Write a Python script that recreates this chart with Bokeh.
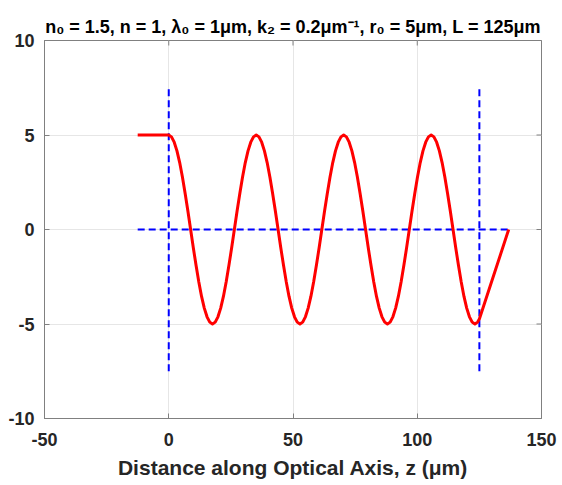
import math
from bokeh.plotting import figure
from bokeh.models import Range1d, FixedTicker
from bokeh.embed import file_html
from bokeh.resources import INLINE

# ---- data ----
x_ticks = [-50, 0, 50, 100, 150]
y_ticks = [-10, -5, 0, 5, 10]

# ray before lens (free space), inside GRIN lens, after lens
z_before = [-12.5, 0.0]
r_before = [5.0, 5.0]

z_inside = [0.0, 1.1, 2.2, 3.3, 4.4, 5.5, 6.6, 7.7, 8.8, 9.9, 11.0, 12.1, 13.2, 14.3, 15.4, 16.5,
            17.6, 18.7, 19.8, 20.9, 22.0, 23.1, 24.2, 25.3, 26.4, 27.5, 28.6, 29.7, 30.8, 31.9, 33.0, 34.1,
            35.2, 36.3, 37.4, 38.5, 39.6, 40.7, 41.8, 42.9, 44.0, 45.1, 46.2, 47.3, 48.4, 49.5, 50.6, 51.7,
            52.8, 53.9, 55.0, 56.1, 57.2, 58.3, 59.4, 60.5, 61.6, 62.7, 63.8, 64.9, 66.0, 67.1, 68.2, 69.3,
            70.4, 71.5, 72.6, 73.7, 74.8, 75.9, 77.0, 78.1, 79.2, 80.3, 81.4, 82.5, 83.6, 84.7, 85.8, 86.9,
            88.0, 89.1, 90.2, 91.3, 92.4, 93.5, 94.6, 95.7, 96.8, 97.9, 99.0, 100.1, 101.2, 102.3, 103.4, 104.5,
            105.6, 106.7, 107.8, 108.9, 110.0, 111.1, 112.2, 113.3, 114.4, 115.5, 116.6, 117.7, 118.8, 119.9,
            121.0, 122.1, 123.2, 124.3, 125.0]
r_inside = [5.00, 4.90, 4.62, 4.16, 3.54, 2.78, 1.91, 0.98, 0.00, -0.98, -1.91, -2.78, -3.54, -4.16, -4.62, -4.90,
            -5.00, -4.90, -4.62, -4.16, -3.54, -2.78, -1.91, -0.98, 0.00, 0.98, 1.91, 2.78, 3.54, 4.16, 4.62, 4.90,
            5.00, 4.90, 4.62, 4.16, 3.54, 2.78, 1.91, 0.98, 0.00, -0.98, -1.91, -2.78, -3.54, -4.16, -4.62, -4.90,
            -5.00, -4.90, -4.62, -4.16, -3.54, -2.78, -1.91, -0.98, 0.00, 0.98, 1.91, 2.78, 3.54, 4.16, 4.62, 4.90,
            5.00, 4.90, 4.62, 4.16, 3.54, 2.78, 1.91, 0.98, 0.00, -0.98, -1.91, -2.78, -3.54, -4.16, -4.62, -4.90,
            -5.00, -4.90, -4.62, -4.16, -3.54, -2.78, -1.91, -0.98, 0.00, 0.98, 1.91, 2.78, 3.54, 4.16, 4.62, 4.90,
            5.00, 4.90, 4.62, 4.16, 3.54, 2.78, 1.91, 0.98, 0.00, -0.98, -1.91, -2.78, -3.54, -4.16,
            -4.62, -4.90, -5.00, -4.90, -4.74]
z_after = [125.0, 136.8]
r_after = [-4.74, 0.0]

# dashed guide lines: lens faces and optical axis
face_z = [0.0, 125.0]
face_r0 = [-7.5, -7.5]
face_r1 = [7.5, 7.5]
axis_z0 = [-12.5]
axis_z1 = [136.8]
axis_r = [0.0]

title_text = "n\u2080 = 1.5, n = 1, \u03bb\u2080 = 1\u03bcm, k\u2082 = 0.2\u03bcm\u207b\u00b9, r\u2080 = 5\u03bcm, L = 125\u03bcm"
x_label = "Distance along Optical Axis, z (\u03bcm)"

FONT = "Liberation Sans"
TXT = "#262626"
AX = "#808080"

p = figure(width=562, height=485, output_backend="svg", toolbar_location=None,
           x_range=Range1d(-50, 150), y_range=Range1d(-10, 10),
           min_border_left=44, min_border_right=21, min_border_top=40, min_border_bottom=67)

p.title.text = title_text
p.title.align = "center"
p.title.text_font = FONT
p.title.text_font_style = "bold"
p.title.text_font_size = "18px"
p.title.text_color = "#000000"
p.title.standoff = 8

# dashed guides
p.segment(x0=face_z, y0=face_r0, x1=face_z, y1=face_r1, line_color="#0000ff", line_width=2, line_dash="7 4")
p.segment(x0=axis_z0, y0=axis_r, x1=axis_z1, y1=axis_r, line_color="#0000ff", line_width=2, line_dash="7 4")

# ray
ray_z = z_before[:1] + z_inside + z_after[1:]
ray_r = r_before[:1] + r_inside + r_after[1:]
p.line(ray_z, ray_r, line_color="#ff0000", line_width=3, line_join="round")

# axes styling
for ax, ticks in ((p.xaxis[0], x_ticks), (p.yaxis[0], y_ticks)):
    ax.ticker = FixedTicker(ticks=ticks)
    ax.major_label_overrides = {t: str(t) for t in ticks}
    ax.major_tick_in = 5
    ax.major_tick_out = 0
    ax.minor_tick_line_color = None
    ax.axis_line_color = AX
    ax.major_tick_line_color = AX
    ax.major_label_text_font = FONT
    ax.major_label_text_font_style = "bold"
    ax.major_label_text_font_size = "18px"
    ax.major_label_text_color = TXT

p.xaxis.axis_label = x_label
p.xaxis.axis_label_text_font = FONT
p.xaxis.axis_label_text_font_style = "bold"
p.xaxis.axis_label_text_font_size = "21px"
p.xaxis.axis_label_text_color = TXT
p.xaxis.axis_label_standoff = 7
p.xaxis.major_label_standoff = 14
p.yaxis.major_label_standoff = 10

# mirrored inward ticks on the top and right edges of the box (clipped to the frame)
p.scatter(x=x_ticks, y=[y_ticks[-1]] * len(x_ticks), marker="dash", angle=math.pi / 2,
          size=10, line_color=AX, line_width=1)
p.scatter(x=[x_ticks[-1]] * len(y_ticks), y=y_ticks, marker="dash",
          size=10, line_color=AX, line_width=1)

p.xgrid.ticker = FixedTicker(ticks=x_ticks)
p.ygrid.ticker = FixedTicker(ticks=y_ticks)
p.grid.grid_line_color = "#e6e6e6"
p.grid.grid_line_width = 1
p.outline_line_color = AX
p.background_fill_color = "#ffffff"
p.border_fill_color = "#ffffff"

open("out.html", "w").write(file_html(p, INLINE))
